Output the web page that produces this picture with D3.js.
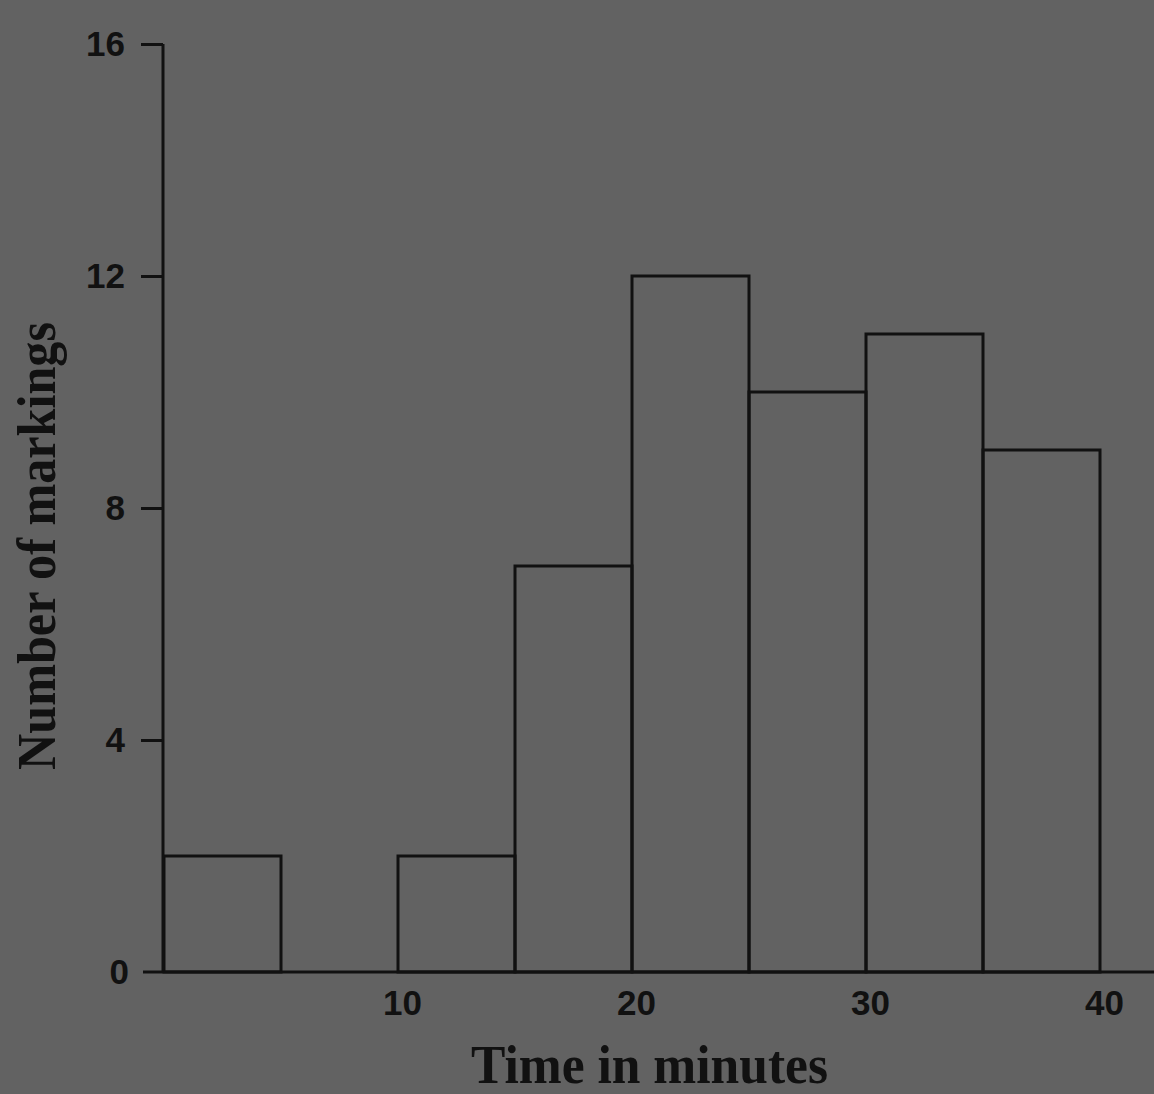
<!DOCTYPE html>
<html>
<head>
<meta charset="utf-8">
<script src="https://cdn.jsdelivr.net/npm/d3@7"></script>
<style>
  html, body { margin: 0; padding: 0; background: #626262; }
  svg { display: block; }
</style>
</head>
<body>
<svg id="drawing_region"></svg>
<script>
// histogram bins (start of each 5-minute bin) and counts
const binStarts = [0, 5, 10, 15, 20, 25, 30, 35];
const counts = [2, 0, 2, 7, 12, 10, 11, 9];
const binWidth = 5;
const yTicks = [0, 4, 8, 12, 16];
const xTicks = [10, 20, 30, 40];

const config = {
    width: 1154,
    height: 1094,
    xRange: [164, 1100],
    yRange: [972, 44]
};

const svg = d3.select('#drawing_region')
    .attr('width', config.width)
    .attr('height', config.height);

svg.append('rect')
    .attr('width', config.width)
    .attr('height', config.height)
    .attr('fill', '#626262');

const x = d3.scaleLinear().domain([0, 40]).range(config.xRange);
const y = d3.scaleLinear().domain([0, 16]).range(config.yRange);

const ink = '#111';
const sans = 'Liberation Sans, Arial, sans-serif';
const serif = 'Liberation Serif, Times New Roman, serif';

// bars (outlines only)
const bins = binStarts.map((s, i) => ({ start: s, count: counts[i] }))
    .filter(d => d.count > 0);

svg.append('g').selectAll('rect')
    .data(bins)
    .join('rect')
    .attr('x', d => x(d.start))
    .attr('y', d => y(d.count))
    .attr('width', d => x(d.start + binWidth) - x(d.start))
    .attr('height', d => y(0) - y(d.count))
    .attr('fill', 'none')
    .attr('stroke', ink)
    .attr('stroke-width', 3);

// y axis
const yAxis = svg.append('g')
    .attr('transform', `translate(${x(0) - 1},0)`)
    .call(d3.axisLeft(y).tickValues(yTicks).tickSize(22).tickPadding(16).tickFormat(d3.format('d')));
yAxis.select('.domain').remove();
yAxis.selectAll('line').attr('stroke', ink).attr('stroke-width', 3);
yAxis.selectAll('text')
    .attr('fill', ink)
    .attr('font-family', sans)
    .attr('font-weight', 'bold')
    .attr('font-size', 35);
yAxis.selectAll('.tick').filter(d => d === 0).select('line').remove();
yAxis.selectAll('.tick').filter(d => d === 0).select('text').attr('x', -34);

svg.append('line')
    .attr('x1', x(0) - 1).attr('x2', x(0) - 1)
    .attr('y1', y(16)).attr('y2', y(0))
    .attr('stroke', ink).attr('stroke-width', 3);

// x axis
const xAxis = svg.append('g')
    .attr('transform', `translate(0,${y(0)})`)
    .call(d3.axisBottom(x).tickValues(xTicks).tickSize(0).tickPadding(18).tickFormat(d3.format('d')));
xAxis.select('.domain').remove();
xAxis.selectAll('text')
    .attr('fill', ink)
    .attr('font-family', sans)
    .attr('font-weight', 'bold')
    .attr('font-size', 35)
    .attr('dx', 4);

svg.append('line')
    .attr('x1', 143).attr('x2', config.width)
    .attr('y1', y(0)).attr('y2', y(0))
    .attr('stroke', ink).attr('stroke-width', 3);

// axis titles
svg.append('text')
    .attr('x', 471)
    .attr('y', 1083)
    .attr('textLength', 357)
    .attr('lengthAdjust', 'spacingAndGlyphs')
    .attr('fill', ink)
    .attr('font-family', serif)
    .attr('font-weight', 'bold')
    .attr('font-size', 54)
    .text('Time in minutes');

svg.append('text')
    .attr('transform', 'translate(55,770) rotate(-90)')
    .attr('textLength', 448)
    .attr('lengthAdjust', 'spacingAndGlyphs')
    .attr('fill', ink)
    .attr('font-family', serif)
    .attr('font-weight', 'bold')
    .attr('font-size', 54)
    .text('Number of markings');
</script>
</body>
</html>
